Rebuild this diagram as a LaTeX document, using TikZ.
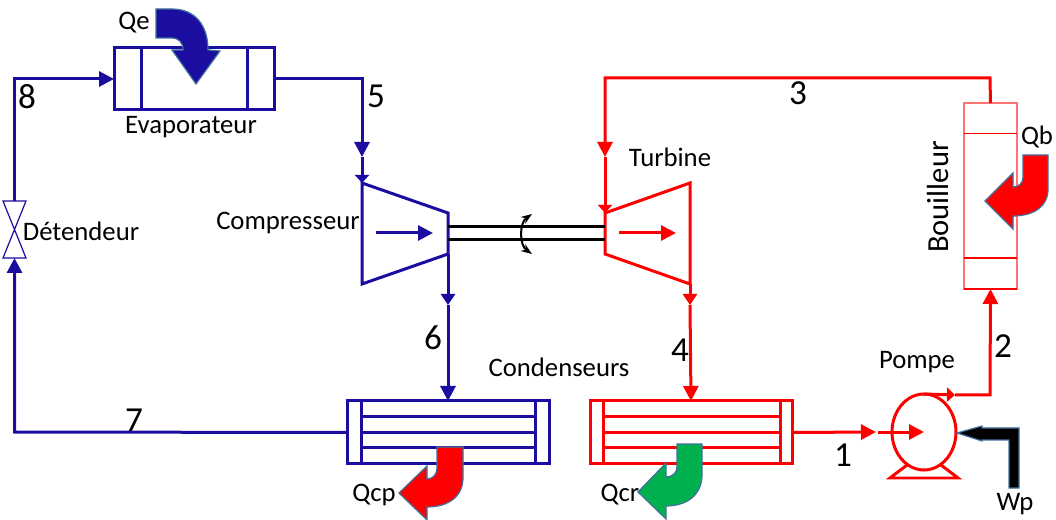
\documentclass[tikz,border=0pt]{standalone}
\usepackage{fontspec}
\setmainfont{Carlito}
\usepackage{tikz}
\usetikzlibrary{arrows.meta,calc,positioning,shapes.geometric}
\definecolor{loopblue}{rgb}{0.11, 0.05, 0.63}
\definecolor{loopred}{rgb}{1, 0, 0}
\definecolor{paleboil}{rgb}{1, 0.45, 0.45}
\definecolor{coolgreen}{rgb}{0, 0.69, 0.31}
\definecolor{heatedge}{rgb}{0.25, 0.44, 0.61}
\tikzset{
  bigtip/.style={-{Triangle[length=0.15cm,width=0.15cm]}},
  midtip/.style={-{Triangle[length=0.11cm,width=0.14cm]}},
  smalltip/.style={-{Triangle[length=0.08cm,width=0.14cm]}},
  bluepipe/.style={color=loopblue,line width=0.03cm},
  redpipe/.style={color=loopred,line width=0.03cm},
  unitbox/.style={fill=white,inner sep=0,outer sep=0,line width=0.03cm},
  heatflow/.style={draw=heatedge,line width=0.012cm},
  lbl/.style={inner sep=0,font=\fontsize{7.6}{9}\selectfont},
  num/.style={inner sep=0,font=\fontsize{10}{12}\selectfont}
}
\begin{document}
\begin{tikzpicture}[x=1cm,y=-1cm]
      \useasboundingbox (0,0) rectangle (10.56,5.2);
      % evaporator
      \node[unitbox,draw=loopblue,minimum width=1.6cm,minimum height=0.62cm] at (1.94,0.79) (evap) {};
      \draw[bluepipe] (1.41,0.48) -- (1.41,1.10);
      \draw[bluepipe] (2.47,0.48) -- (2.47,1.10);
      % compressor and turbine
      \coordinate (compa) at (3.62,1.83);
      \coordinate (compb) at (4.48,2.13);
      \coordinate (compc) at (4.48,2.54);
      \coordinate (compd) at (3.62,2.84);
      \coordinate (turba) at (6.05,2.13);
      \coordinate (turbb) at (6.90,1.83);
      \coordinate (turbc) at (6.90,2.84);
      \coordinate (turbd) at (6.05,2.54);
      \draw[bluepipe,line join=miter] (compa)--(compb)--(compc)--(compd)--cycle;
      \draw[redpipe,line join=miter] (turba)--(turbb)--(turbc)--(turbd)--cycle;
      \draw[bluepipe,bigtip] (3.76,2.33) -- (4.33,2.33);
      \draw[redpipe,bigtip] (6.19,2.33) -- (6.76,2.33);
      % shaft
      \draw[black,line width=0.03cm] (4.48,2.27) -- (6.05,2.27);
      \draw[black,line width=0.03cm] (4.48,2.40) -- (6.05,2.40);
      \draw[black,line width=0.02cm,{Stealth[length=0.11cm,width=0.08cm]}-{Stealth[length=0.11cm,width=0.08cm]}] (5.32,2.14) to [out=215,in=145] (5.32,2.54);
      % valve
      \coordinate (valvetop) at (0.145,2.01);
      \coordinate (valvebot) at (0.145,2.58);
      \draw[color=loopblue,line width=0.012cm] (0.03,2.01) -- (0.26,2.01) -- (0.03,2.58) -- (0.26,2.58) -- cycle;
      % condensers
      \node[unitbox,draw=loopblue,minimum width=2.02cm,minimum height=0.63cm] at (4.48,4.325) (condb) {};
      \draw[bluepipe] (3.61,4.01) -- (3.61,4.64);
      \draw[bluepipe] (5.35,4.01) -- (5.35,4.64);
      \draw[bluepipe] (3.61,4.17) -- (5.35,4.17);
      \draw[bluepipe] (3.61,4.32) -- (5.35,4.32);
      \draw[bluepipe] (3.61,4.48) -- (5.35,4.48);
      \node[unitbox,draw=loopred,minimum width=2.02cm,minimum height=0.63cm] at (6.91,4.325) (condr) {};
      \draw[redpipe] (6.035,4.01) -- (6.035,4.64);
      \draw[redpipe] (7.80,4.01) -- (7.80,4.64);
      \draw[redpipe] (6.035,4.17) -- (7.80,4.17);
      \draw[redpipe] (6.035,4.32) -- (7.80,4.32);
      \draw[redpipe] (6.035,4.48) -- (7.80,4.48);
      % boiler
      \node[unitbox,draw=paleboil,line width=0.015cm,minimum width=0.53cm,minimum height=1.86cm] at (9.905,1.96) (boil) {};
      \draw[color=loopred,line width=0.012cm] (9.64,1.335) -- (10.17,1.335);
      \draw[color=loopred,line width=0.012cm] (9.64,2.58) -- (10.17,2.58);
      \draw[color=loopred,line width=0.02cm] (9.64,2.89) -- (10.17,2.89);
      % pump
      \node[draw=loopred,line width=0.03cm,ellipse,minimum width=0.64cm,minimum height=0.76cm,inner sep=0,outer sep=0] at (9.24,4.32) (pump) {};
      \draw[redpipe,line join=miter] (9.07,4.65) -- (8.90,4.78) -- (9.58,4.78) -- (9.41,4.65);
      % blue loop
      \coordinate (cornerf) at (3.62,0.79);
      \coordinate (midf) at (3.62,1.57);
      \coordinate (mids) at (4.48,3.05);
      \coordinate (cornerh) at (0.145,0.79);
      \coordinate (cornerg) at (0.145,4.32);
      \draw[bluepipe,bigtip] (evap.east) -- (cornerf) -- (midf);
      \draw[bluepipe,smalltip] (midf) -- (compa);
      \draw[bluepipe,midtip] (compc) -- (mids);
      \draw[bluepipe,bigtip] (mids) -- (condb.north);
      \draw[bluepipe,bigtip] (condb.west) -- (cornerg) -- (valvebot);
      \draw[bluepipe,bigtip] (valvetop) -- (cornerh) -- (evap.west);
      % red loop
      \coordinate (cornerc) at (9.90,0.78);
      \coordinate (cornerd) at (6.05,0.78);
      \coordinate (midc) at (6.05,1.57);
      \coordinate (mide) at (6.90,3.05);
      \coordinate (inlet) at (8.76,4.32);
      \coordinate (inletb) at (8.78,4.32);
      \coordinate (outlet) at (9.55,3.95);
      \coordinate (cornerb) at (9.90,3.95);
      \draw[redpipe,bigtip] (boil.north) -- (cornerc) -- (cornerd) -- (midc);
      \draw[redpipe,smalltip] (midc) -- (turba);
      \draw[redpipe,midtip] (turbc) -- (mide);
      \draw[redpipe,bigtip] (mide) -- (condr.north);
      \draw[redpipe,bigtip] (condr.east) -- (inlet);
      \draw[redpipe,bigtip] (inletb) -- (pump.center);
      \draw[redpipe,smalltip] (pump.north) -- (outlet);
      \draw[redpipe,bigtip] (outlet) -- (cornerb) -- (boil.south);
      % heat and work arrows
      \draw[heatflow,fill=loopblue] (1.56,0.09) -- (1.72,0.09) .. controls (1.95,0.09) and (2.08,0.25) .. (2.08,0.50) -- (2.20,0.51) -- (1.96,0.84) -- (1.72,0.50) -- (1.83,0.50) .. controls (1.83,0.42) and (1.78,0.38) .. (1.72,0.38) -- (1.56,0.38) -- cycle;
      \draw[heatflow,fill=loopred] (10.23,1.55) -- (10.48,1.55) -- (10.48,1.90) .. controls (10.48,2.06) and (10.34,2.16) .. (10.13,2.16) -- (10.13,2.29) -- (9.85,2.01) -- (10.13,1.73) -- (10.13,1.87) .. controls (10.19,1.87) and (10.23,1.83) .. (10.23,1.77) -- cycle;
      \draw[heatflow,fill=loopred] (4.37,4.47) -- (4.63,4.47) -- (4.63,4.78) .. controls (4.63,4.96) and (4.49,5.07) .. (4.27,5.07) -- (4.27,5.20) -- (3.99,4.93) -- (4.27,4.66) -- (4.27,4.79) .. controls (4.33,4.79) and (4.37,4.74) .. (4.37,4.68) -- cycle;
      \draw[heatflow,fill=coolgreen] (6.77,4.44) -- (7.02,4.44) -- (7.02,4.75) .. controls (7.02,4.94) and (6.88,5.06) .. (6.66,5.06) -- (6.66,5.19) -- (6.38,4.92) -- (6.66,4.63) -- (6.66,4.77) .. controls (6.72,4.77) and (6.77,4.73) .. (6.77,4.67) -- cycle;
      \draw[heatflow,fill=black] (9.57,4.33) -- (9.82,4.26) -- (9.82,4.28) -- (10.19,4.28) -- (10.19,4.88) -- (10.09,4.88) -- (10.09,4.40) -- (9.82,4.40) -- (9.82,4.41) -- cycle;
      % labels
      \node[lbl] at (1.34,0.23) (qe) {Qe};
      \node[lbl] at (1.91,1.27) (evaplabel) {Evaporateur};
      \node[lbl] at (0.81,2.31) (detlabel) {Détendeur};
      \node[lbl] at (2.88,2.23) (complabel) {Compresseur};
      \node[lbl] at (6.70,1.57) (turblabel) {Turbine};
      \node[lbl,rotate=90,font=\fontsize{8.7}{10}\selectfont] at (9.38,1.97) (boillabel) {Bouilleur};
      \node[lbl] at (10.37,1.37) (qb) {Qb};
      \node[lbl] at (5.59,3.67) (condlabel) {Condenseurs};
      \node[lbl] at (9.17,3.62) (pumplabel) {Pompe};
      \node[lbl] at (3.74,4.95) (qcp) {Qcp};
      \node[lbl] at (6.20,4.95) (qcr) {Qcr};
      \node[lbl] at (10.15,5.04) (wp) {Wp};
      \node[num] at (0.27,0.97) (n8) {8};
      \node[num] at (3.76,0.96) (n5) {5};
      \node[num] at (7.98,0.93) (n3) {3};
      \node[num] at (4.33,3.38) (n6) {6};
      \node[num] at (6.80,3.50) (n4) {4};
      \node[num] at (10.03,3.46) (n2) {2};
      \node[num] at (1.34,4.20) (n7) {7};
      \node[num] at (8.43,4.55) (n1) {1};
    \end{tikzpicture}
\end{document}
